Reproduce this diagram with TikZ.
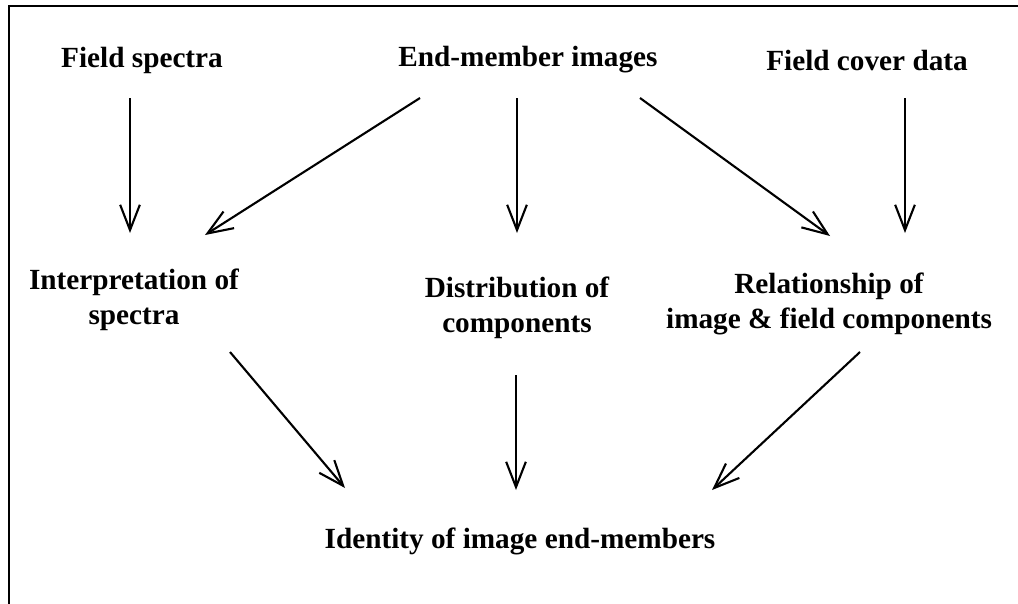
\documentclass[tikz,border=0pt]{standalone}
\usepackage{fontspec}
\setmainfont{Liberation Serif}
\usetikzlibrary{arrows.meta}
\begin{document}
\begin{tikzpicture}[
        x=0.025cm, y=-0.025cm,
        box-lbl/.style = {inner sep=0, align=center, font=\bfseries\fontsize{20.8}{24.8}\selectfont},
        flow/.style = {line width=1.5pt, -{Straight Barb[length=18pt,width=14pt,line width=1.5pt]}}
      ]
        \useasboundingbox (0,0) rectangle (1018,604);
        \draw[line width=2.1pt] (9,604) -- (9,6) -- (1018,6);

        \node[box-lbl] (fs) at (142,60) {Field spectra};
        \node[box-lbl] (emi) at (528,60) {End-member images};
        \node[box-lbl] (fcd) at (867,60) {Field cover data};
        \node[box-lbl] (interp) at (134,300) {Interpretation of\\spectra};
        \node[box-lbl] (dist) at (517,308) {Distribution of\\components};
        \node[box-lbl] (rel) at (829,304) {Relationship of\\image \& field components};
        \node[box-lbl] (ident) at (520,541) {Identity of image end-members};

        \draw[flow] ([shift={(-12,38)}]fs.center) -- ([shift={(-4,-67)}]interp.center);
        \draw[flow] ([shift={(-108,38)}]emi.center) -- ([shift={(71,-65)}]interp.center);
        \draw[flow] ([shift={(-11,38)}]emi.center) -- ([shift={(0,-75)}]dist.center);
        \draw[flow] ([shift={(112,38)}]emi.center) -- ([shift={(1,-68)}]rel.center);
        \draw[flow] ([shift={(38,38)}]fcd.center) -- ([shift={(76,-71)}]rel.center);

        \draw[flow] ([shift={(96,52)}]interp.center) -- ([shift={(-175,-53)}]ident.center);
        \draw[flow] ([shift={(-1,67)}]dist.center) -- ([shift={(-4,-51)}]ident.center);
        \draw[flow] ([shift={(31,48)}]rel.center) -- ([shift={(192,-51)}]ident.center);
      \end{tikzpicture}
\end{document}
